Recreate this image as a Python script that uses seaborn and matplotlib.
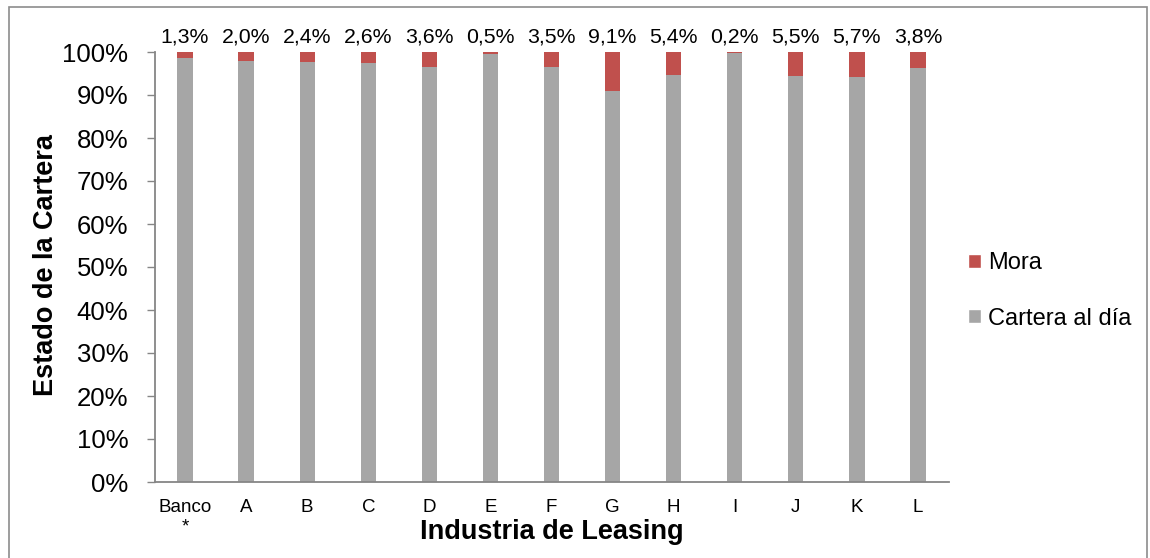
import matplotlib
matplotlib.use("Agg")
import matplotlib.pyplot as plt
import seaborn as sns
import pandas as pd
from matplotlib.patches import Rectangle, Patch
from matplotlib.ticker import FuncFormatter

# Portfolio status by leasing company (%)
categories = ["Banco\n*", "A", "B", "C", "D", "E", "F", "G", "H", "I", "J", "K", "L"]
mora = [1.3, 2.0, 2.4, 2.6, 3.6, 0.5, 3.5, 9.1, 5.4, 0.2, 5.5, 5.7, 3.8]
al_dia = [round(100 - m, 1) for m in mora]

df = pd.DataFrame({"empresa": categories, "mora": mora, "al_dia": al_dia})
df["total"] = df["mora"] + df["al_dia"]

sns.set_theme(style="white")
plt.rcParams["font.family"] = ["Liberation Sans", "DejaVu Sans"]
plt.rcParams["text.color"] = "black"
plt.rcParams["axes.labelcolor"] = "black"
plt.rcParams["xtick.color"] = "black"
plt.rcParams["ytick.color"] = "black"

GRAY = "#A6A6A6"
RED = "#C0504D"
AXIS = "#868686"

fig = plt.figure(figsize=(11.5, 5.58), dpi=100)
ax = fig.add_axes([154.5 / 1150, 1 - 482 / 558, (948.5 - 154.5) / 1150, (482 - 52) / 558])

# stacked bars: full height in red, the up-to-date share in gray on top
sns.barplot(data=df, x="empresa", y="total", color=RED, width=0.25,
            saturation=1, ax=ax, edgecolor="none", linewidth=0)
sns.barplot(data=df, x="empresa", y="al_dia", color=GRAY, width=0.25,
            saturation=1, ax=ax, edgecolor="none", linewidth=0)

for i, m in enumerate(df["mora"]):
    ax.text(i, 101.2, f"{m:.1f}%".replace(".", ","), ha="center", va="bottom",
            fontsize=15.3, color="black")

ax.set_xlim(-0.5, len(categories) - 0.5)
ax.set_ylim(0, 100)
ax.set_yticks(range(0, 101, 10))
ax.yaxis.set_major_formatter(FuncFormatter(lambda v, _: f"{v:.0f}%"))
ax.tick_params(axis="y", labelsize=18.5, length=5.8, width=1, color=AXIS,
               direction="out", left=True, pad=13, labelcolor="black")
ax.tick_params(axis="x", labelsize=13.5, length=0, pad=12.5, labelcolor="black")

ax.set_xlabel("Industria de Leasing", fontsize=19.5, fontweight="bold", va="center",
              color="black")
ax.set_ylabel("Estado de la Cartera", fontsize=19.5, fontweight="bold", va="center",
              color="black")
ax.xaxis.set_label_coords(0.5, (482 - 532) / 430)
ax.yaxis.set_label_coords((46 - 154.5) / 794, (482 - 265) / 430)

for side in ["top", "right"]:
    ax.spines[side].set_visible(False)
for side in ["left", "bottom"]:
    ax.spines[side].set_color(AXIS)
    ax.spines[side].set_linewidth(1.3)

handles = [Patch(facecolor=RED, label="Mora"), Patch(facecolor=GRAY, label="Cartera al día")]
fig.legend(handles=handles, loc="center left", bbox_to_anchor=(968 / 1150, 1 - 291 / 558),
           frameon=False, fontsize=17, handlelength=0.55, handleheight=0.55,
           handletextpad=0.3, labelspacing=1.4, borderaxespad=0, borderpad=0,
           labelcolor="black")

# chart area border
fig.patches.append(Rectangle((9 / 1150, -0.01), (1147 - 9) / 1150, 1 - 7 / 558 + 0.01,
                             transform=fig.transFigure, fill=False,
                             edgecolor="#8C8C8C", linewidth=1.2, clip_on=False))

fig.savefig("out.png", dpi=100)
